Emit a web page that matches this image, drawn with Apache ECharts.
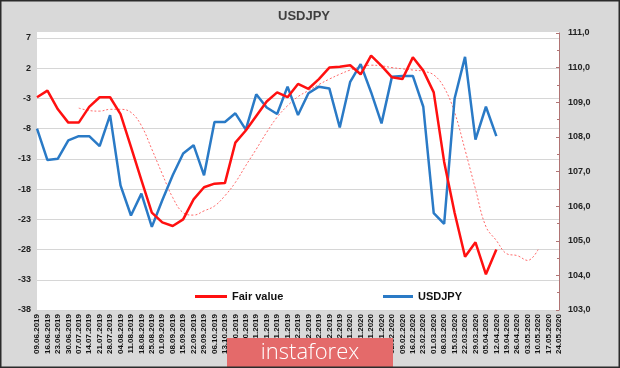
<!DOCTYPE html>
<html>
<head>
<meta charset="utf-8">
<script src="https://cdn.jsdelivr.net/npm/echarts@6/dist/echarts.min.js"></script>
<style>html,body{margin:0;padding:0;background:#d9d9d9;}#c{width:620px;height:368px;}</style>
</head>
<body>
<div id="c"></div>
<script>
const categories = ['09.06.2019','16.06.2019','23.06.2019','30.06.2019','07.07.2019','14.07.2019','21.07.2019','28.07.2019','04.08.2019','11.08.2019','18.08.2019','25.08.2019','01.09.2019','08.09.2019','15.09.2019','22.09.2019','29.09.2019','06.10.2019','13.10.2019','20.10.2019','27.10.2019','03.11.2019','10.11.2019','17.11.2019','24.11.2019','01.12.2019','08.12.2019','15.12.2019','22.12.2019','29.12.2019','05.01.2020','12.01.2020','19.01.2020','26.01.2020','02.02.2020','09.02.2020','16.02.2020','23.02.2020','01.03.2020','08.03.2020','15.03.2020','22.03.2020','29.03.2020','05.04.2020','12.04.2020','19.04.2020','26.04.2020','03.05.2020','10.05.2020','17.05.2020','24.05.2020'];

const fairValue = [-2.8,-1.7,-4.8,-7.0,-7.0,-4.4,-2.8,-2.8,-5.6,-11.0,-16.5,-21.9,-23.5,-24.1,-23.0,-19.7,-17.7,-17.1,-17.0,-10.3,-8.3,-5.9,-3.5,-2.0,-2.8,-0.6,-1.4,0.2,2.1,2.25,2.5,1.0,4.1,2.4,0.5,0.2,3.8,1.6,-2.0,-13.5,-21.9,-29.2,-26.8,-32.1,-28.0,null,null,null,null,null,null];

const fairValueTrend = [null,null,null,null,-4.6,-5.0,-5.1,-4.8,-4.8,-5.3,-7.5,-11.4,-15.5,-19.4,-21.9,-22.3,-21.6,-20.8,-19.1,-16.9,-14.1,-11.4,-8.6,-6.1,-4.2,-2.7,-1.7,-0.7,0.2,1.0,1.7,2.2,2.5,2.4,2.1,1.9,1.7,1.5,0.9,-1.2,-5.3,-11.5,-18.0,-24.2,-26.5,-28.7,-29.0,-29.8,-28.0,null,null];

const usdjpy = [108.24,107.33,107.37,107.90,108.02,108.02,107.73,108.63,106.60,105.73,106.36,105.40,106.17,106.89,107.52,107.76,106.89,108.43,108.43,108.68,108.21,109.23,108.85,108.66,109.45,108.63,109.26,109.45,109.40,108.27,109.59,110.10,109.29,108.39,109.74,109.76,109.76,108.87,105.80,105.49,109.11,110.31,107.92,108.87,108.02,null,null,null,null,null,null];

const leftTicks = {min: -38, max: 7, step: 5};
const rightTicks = {min: 103, max: 111, step: 1};

const chart = echarts.init(document.getElementById('c'), null, {renderer: 'canvas'});
const font = 'Arial, "Liberation Sans", sans-serif';

chart.setOption({
  backgroundColor: '#d9d9d9',
  animation: false,
  title: {
    text: 'USDJPY', left: 273, top: 5,
    textStyle: {fontFamily: font, fontSize: 13, fontWeight: 'bold', color: '#404040'}
  },
  graphic: [
    {type: 'rect', z: -10, silent: true, shape: {x: 37, y: 32, width: 522, height: 278}, style: {fill: '#ffffff'}},
    {type: 'rect', z: 100, silent: true, shape: {x: 0.75, y: 0.75, width: 618.5, height: 366.5}, style: {fill: 'none', stroke: '#2b2b2b', lineWidth: 1.5}},
    {type: 'rect', z: 90, silent: true, shape: {x: 227, y: 338, width: 166, height: 30}, style: {fill: '#e46a6a'}},
    {type: 'text', z: 91, silent: true, style: {x: 310, y: 353, text: 'instaforex', align: 'center', verticalAlign: 'middle', fill: '#ffffff', font: '300 22px "Open Sans", Lato, sans-serif'}}
  ],
  legend: [
    {left: 190, top: 286, itemWidth: 32, itemHeight: 3, icon: 'rect', itemGap: 5, data: ['Fair value'],
     textStyle: {fontFamily: font, fontSize: 11, fontWeight: 'bold', color: '#111'}},
    {left: 378, top: 286, itemWidth: 30, itemHeight: 3, icon: 'rect', data: ['USDJPY'],
     textStyle: {fontFamily: font, fontSize: 11, fontWeight: 'bold', color: '#111'}}
  ],
  grid: [
    {left: 37, right: 61, top: 38, bottom: 58, containLabel: false},
    {left: 37, right: 61, top: 33, bottom: 58, containLabel: false}
  ],
  xAxis: [
    {type: 'category', gridIndex: 0, data: categories, boundaryGap: false,
     axisLine: {show: false}, axisTick: {show: false},
     axisLabel: {interval: 0, rotate: 90, fontSize: 8, fontWeight: 'bold', color: '#111', fontFamily: font, margin: 4}},
    {type: 'category', gridIndex: 1, data: categories, boundaryGap: false, show: false}
  ],
  yAxis: [
    {type: 'value', gridIndex: 0, position: 'left', min: leftTicks.min, max: leftTicks.max, interval: leftTicks.step,
     axisLine: {show: false}, axisTick: {show: false},
     splitLine: {lineStyle: {color: '#d6d6d6', width: 1}},
     axisLabel: {fontSize: 9, fontWeight: 'bold', color: '#222', fontFamily: font, margin: 6}},
    {type: 'value', gridIndex: 1, position: 'right', min: rightTicks.min, max: rightTicks.max, interval: rightTicks.step,
     axisLine: {show: true, lineStyle: {color: '#b07474', width: 1}},
     axisTick: {show: true, inside: true, length: 3, lineStyle: {color: '#b07474'}},
     minorTick: {show: true, splitNumber: 2, length: 2, lineStyle: {color: '#b07474'}},
     splitLine: {show: false},
     axisLabel: {fontSize: 9, fontWeight: 'bold', color: '#222', fontFamily: font, margin: 9,
       formatter: v => v.toFixed(1).replace('.', ',')}}
  ],
  series: [
    {name: 'Fair value trend', type: 'line', xAxisIndex: 0, yAxisIndex: 0, data: fairValueTrend,
     showSymbol: false, smooth: 0.4, connectNulls: false,
     lineStyle: {color: '#ff6a6a', width: 1, type: [2, 2]}, itemStyle: {color: '#ff6a6a'}, z: 1},
    {name: 'USDJPY', type: 'line', xAxisIndex: 1, yAxisIndex: 1, data: usdjpy,
     showSymbol: false, lineStyle: {color: '#2a7ac6', width: 2.5}, itemStyle: {color: '#2a7ac6'}, z: 2},
    {name: 'Fair value', type: 'line', xAxisIndex: 0, yAxisIndex: 0, data: fairValue,
     showSymbol: false, lineStyle: {color: '#ff1010', width: 2.5}, itemStyle: {color: '#ff1010'}, z: 3}
  ]
});
</script>
</body>
</html>
